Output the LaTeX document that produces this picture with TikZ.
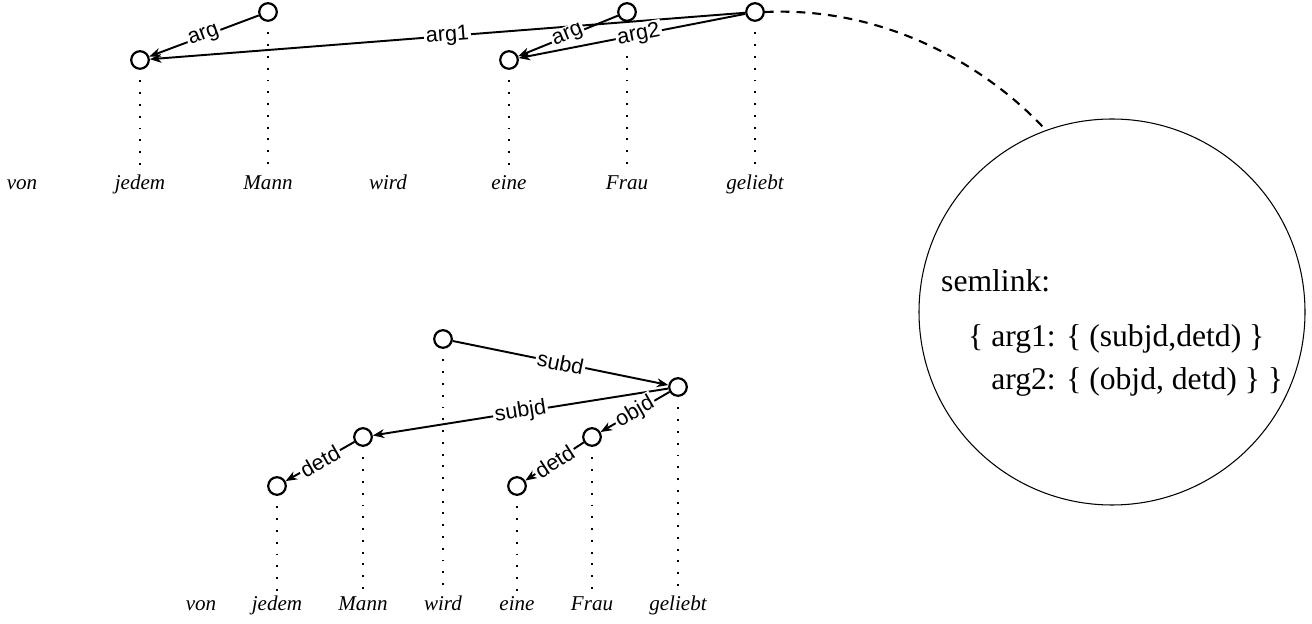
\documentclass[tikz,border=0pt]{standalone}
\usepackage{fontspec}
\setmainfont{Liberation Serif}
\newfontfamily\lblfont{Liberation Sans}
\usetikzlibrary{arrows.meta}
\begin{document}
\begin{tikzpicture}[x=0.02cm,y=-0.02cm,
  vtx/.style={circle,draw,line width=1.25pt,minimum size=10pt,inner sep=0pt},
  word/.style={font=\fontsize{12}{14}\selectfont\itshape,anchor=base},
  edge/.style={line width=1.1pt,-{Stealth[length=6.5pt,width=5pt,inset=2pt]}},
  lbl/.style={font=\lblfont\fontsize{12.3}{14}\selectfont,fill=white,inner sep=1pt,sloped},
  proj/.style={line width=1.1pt,dash pattern=on 1.1pt off 5.6pt},
  semtxt/.style={anchor=base west,font=\fontsize{18}{21}\selectfont}]
\useasboundingbox (0,0) rectangle (1312,624);
% top diagram
\node[vtx] (tj) at (140,60) {};
\node[vtx] (tm) at (268,12) {};
\node[vtx] (te) at (509,60) {};
\node[vtx] (tf) at (627,12) {};
\node[vtx] (tg) at (755,12) {};
\node[word] (wv1) at (22,190) {von};
\node[word] (wj1) at (140,190) {jedem};
\node[word] (wm1) at (268,190) {Mann};
\node[word] (ww1) at (388,190) {wird};
\node[word] (we1) at (509,190) {eine};
\node[word] (wf1) at (627,190) {Frau};
\node[word] (wg1) at (755,190) {geliebt};
\foreach \a in {tj,tm,te,tf,tg}
  \draw[proj] ([yshift=-6pt]\a.south) -- (\a.south |- 0,172);
\draw[edge] (tm) -- node[lbl]{arg} (tj);
\draw[edge] (tg) -- node[lbl,pos=0.5]{arg1} (tj);
\draw[edge] (tf) -- node[lbl]{arg} (te);
\draw[edge] (tg) -- node[lbl,pos=0.47]{arg2} (te);
% semlink circle
\node[circle,draw,line width=0.6pt,minimum size=386*0.02cm,inner sep=0pt] (sem) at (1112,312) {};
\node[semtxt] (s1) at (935,292) {semlink:};
\node[semtxt] (s2) at (962,347) {\{ arg1: \{ (subjd,detd) \}};
\node[semtxt] (s3) at (962,390) {\phantom{\{ }arg2: \{ (objd, detd) \} \}};
\draw[dashed,dash pattern=on 5pt off 4pt,line width=1.2pt] (tg.east) .. controls (900,6) and (1000,80) .. (sem.110);
% bottom diagram
\node[vtx] (bw) at (443,339) {};
\node[vtx] (bg) at (678,387) {};
\node[vtx] (bm) at (363,437) {};
\node[vtx] (bf) at (592,437) {};
\node[vtx] (bj) at (277,486) {};
\node[vtx] (be) at (517,486) {};
\node[word] (wv2) at (201,611) {von};
\node[word] (wj2) at (277,611) {jedem};
\node[word] (wm2) at (363,611) {Mann};
\node[word] (ww2) at (443,611) {wird};
\node[word] (we2) at (517,611) {eine};
\node[word] (wf2) at (592,611) {Frau};
\node[word] (wg2) at (678,611) {geliebt};
\foreach \a in {bw,bg,bm,bf,bj,be}
  \draw[proj] ([yshift=-6pt]\a.south) -- (\a.south |- 0,594);
\draw[edge] (bw) -- node[lbl]{subd} (bg);
\draw[edge] (bg) -- node[lbl]{subjd} (bm);
\draw[edge] (bg) -- node[lbl]{objd} (bf);
\draw[edge] (bm) -- node[lbl]{detd} (bj);
\draw[edge] (bf) -- node[lbl]{detd} (be);
\end{tikzpicture}
\end{document}
